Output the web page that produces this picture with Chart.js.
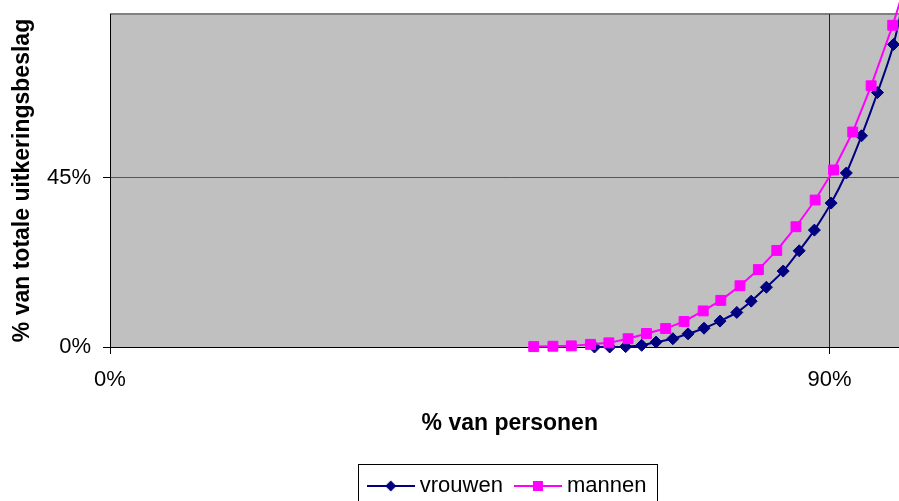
<!DOCTYPE html>
<html>
<head>
<meta charset="utf-8">
<script src="https://cdn.jsdelivr.net/npm/chart.js@4/dist/chart.umd.min.js"></script>
<style>
  html, body { margin: 0; padding: 0; background: #fff; overflow: hidden; }
  #wrap { position: absolute; left: 0; top: 0; width: 920px; height: 540px; }
</style>
</head>
<body>
<div id="wrap"><canvas id="c" width="920" height="540"></canvas></div>
<script>
// ---- data ----
const seriesNames = ['vrouwen', 'mannen'];
const xVrouwen = [60.6, 62.5, 64.5, 66.5, 68.3, 70.4, 72.3, 74.3, 76.3, 78.4, 80.2, 82.1, 84.2, 86.2, 88.1, 90.2, 92.1, 94.0, 96.0, 98.0, 100];
const yVrouwen = [0, 0, 0.1, 0.45, 1.3, 2.2, 3.5, 5.0, 6.9, 9.2, 12.2, 15.9, 20.2, 25.6, 31.1, 38.3, 46.3, 56.2, 67.7, 80.5, 100];
const xMannen = [53.0, 55.4, 57.7, 60.1, 62.4, 64.8, 67.1, 69.5, 71.8, 74.2, 76.4, 78.8, 81.1, 83.4, 85.8, 88.2, 90.5, 92.9, 95.2, 97.9, 100];
const yMannen = [0.1, 0.2, 0.3, 0.7, 1.1, 2.2, 3.6, 4.9, 6.8, 9.6, 12.4, 16.3, 20.6, 25.7, 32.0, 39.1, 47.1, 57.2, 69.5, 85.6, 100];
const xTicks = [0, 90];
const yTicks = [0, 45];
const xTitle = '% van personen';
const yTitle = '% van totale uitkeringsbeslag';

const NAVY = '#000080';
const MAGENTA = '#FF00FF';
const FONT = "'Liberation Sans', Arial, sans-serif";
Chart.defaults.font.family = FONT;
Chart.defaults.color = '#000';

function legendIcon(color, shape) {
  const c = document.createElement('canvas');
  c.width = 48; c.height = 16;
  const g = c.getContext('2d');
  g.strokeStyle = color; g.lineWidth = 2;
  g.beginPath(); g.moveTo(0, 8); g.lineTo(48, 8); g.stroke();
  g.fillStyle = color;
  if (shape === 'diamond') {
    g.beginPath(); g.moveTo(18.5, 8); g.lineTo(24, 2.5); g.lineTo(29.5, 8); g.lineTo(24, 13.5); g.closePath(); g.fill();
  } else {
    g.fillRect(19, 3, 10, 10);
  }
  return c;
}
const icons = [legendIcon(NAVY, 'diamond'), legendIcon(MAGENTA, 'square')];

const toPts = (xs, ys) => xs.map((x, i) => ({ x: x, y: ys[i] }));

const plotBg = {
  id: 'plotBg',
  beforeDraw(chart) {
    const { ctx, chartArea: a } = chart;
    ctx.save();
    ctx.fillStyle = '#C0C0C0';
    ctx.fillRect(a.left, a.top, a.right - a.left, a.bottom - a.top);
    ctx.fillStyle = '#808080';
    ctx.fillRect(a.left, a.top - 1, a.right - a.left, 2);
    ctx.restore();
  }
};

const legendPlace = {
  id: 'legendPlace',
  afterLayout(chart) {
    const lg = chart.legend;
    if (!lg) return;
    const mid = 509.6;
    const w = lg.width;
    lg.left = mid - w / 2; lg.right = mid + w / 2;
    lg.top = 458; lg.bottom = lg.top + lg.height;
  },
  afterDraw(chart) {
    const ctx = chart.ctx;
    ctx.save();
    ctx.strokeStyle = '#000';
    ctx.lineWidth = 1;
    ctx.strokeRect(358.5, 464.5, 299, 60);
    ctx.restore();
  }
};

new Chart(document.getElementById('c'), {
  type: 'line',
  data: {
    datasets: [
      {
        label: seriesNames[0],
        data: toPts(xVrouwen, yVrouwen),
        borderColor: NAVY, backgroundColor: NAVY,
        borderWidth: 2,
        pointStyle: 'rectRot', pointRadius: 6, pointBorderWidth: 1,
        pointBackgroundColor: NAVY, pointBorderColor: NAVY,
        tension: 0.3, clip: false, order: 1
      },
      {
        label: seriesNames[1],
        data: toPts(xMannen, yMannen),
        borderColor: MAGENTA, backgroundColor: MAGENTA,
        borderWidth: 2,
        pointStyle: 'rect', pointRadius: 7, pointBorderWidth: 1,
        pointBackgroundColor: MAGENTA, pointBorderColor: MAGENTA,
        tension: 0, clip: false, order: 0
      }
    ]
  },
  options: {
    responsive: false,
    animation: false,
    devicePixelRatio: 1,
    layout: { padding: { top: 14, left: 0, right: 10.5, bottom: 0 } },
    plugins: {
      tooltip: { enabled: false },
      legend: {
        position: 'bottom',
        labels: {
          color: '#000',
          font: { size: 22, family: FONT },
          usePointStyle: true,
          pointStyleWidth: 36,
          padding: 17,
          sort: (a, b) => a.datasetIndex - b.datasetIndex,
          generateLabels(chart) {
            const items = Chart.defaults.plugins.legend.labels.generateLabels(chart);
            items.forEach(it => { it.pointStyle = icons[it.datasetIndex]; it.lineWidth = 0; });
            return items;
          }
        }
      }
    },
    scales: {
      x: {
        type: 'linear',
        min: 0, max: 100,
        afterBuildTicks: s => { s.ticks = xTicks.map(v => ({ value: v })); },
        afterFit: s => {
          s.height = s.chart.height - (s.chart.legend ? s.chart.legend.height : 0) - 347;
          s.paddingLeft = 0; s.paddingRight = 0;
        },
        ticks: {
          callback: v => v + '%',
          font: { size: 22 },
          color: '#000',
          padding: 13,
          maxRotation: 0
        },
        grid: {
          color: c => (c.tick && c.tick.value === 0) ? 'rgba(0,0,0,0)' : '#222',
          tickColor: '#000',
          tickLength: 7,
          lineWidth: 1
        },
        border: { color: '#000', width: 1 },
        title: {
          display: true, text: xTitle, color: '#000',
          font: { size: 23, weight: 'bold' },
          padding: { top: 0, bottom: 54 }
        }
      },
      y: {
        type: 'linear',
        min: 0, max: 88.6,
        afterBuildTicks: s => { s.ticks = yTicks.map(v => ({ value: v })); },
        afterFit: s => { s.width = 110; s.paddingTop = 0; s.paddingBottom = 0; },
        ticks: {
          callback: v => v + '%',
          font: { size: 22 },
          color: '#000',
          padding: 12
        },
        grid: {
          color: c => (c.tick && c.tick.value === 0) ? 'rgba(0,0,0,0)' : '#555',
          tickColor: '#000',
          tickLength: 7,
          lineWidth: 1
        },
        border: { color: '#000', width: 1 },
        title: {
          display: true, text: yTitle, color: '#000',
          font: { size: 23, weight: 'bold' },
          padding: { top: 9, bottom: 0 }
        }
      }
    }
  },
  plugins: [plotBg, legendPlace]
});
</script>
</body>
</html>
